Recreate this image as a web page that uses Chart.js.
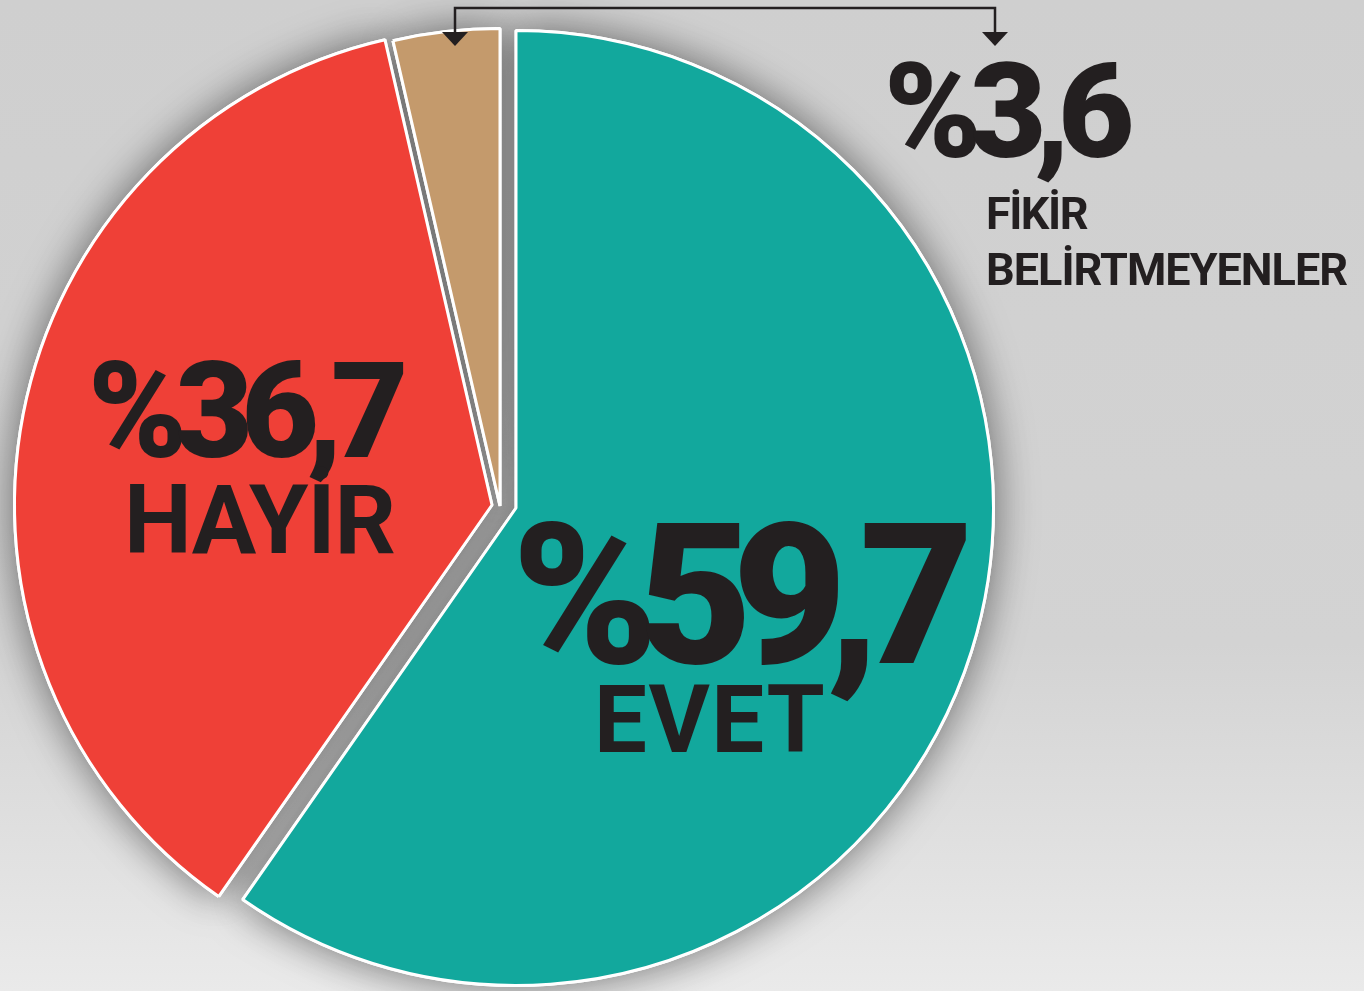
<!DOCTYPE html>
<html>
<head>
<meta charset="utf-8">
<script src="https://cdn.jsdelivr.net/npm/chart.js@4/dist/chart.umd.min.js"></script>
<style>
  html, body { margin:0; padding:0; }
  body {
    width:1364px; height:991px; overflow:hidden; position:relative;
    background: linear-gradient(to bottom, #cfcfcf 0%, #d3d3d3 65%, #e0e0e0 85%, #eaeaea 100%);
    font-family: Roboto, "Noto Sans", sans-serif; color:#231f20;
  }
  #wrap { position:absolute; left:0; top:0; width:1364px; height:991px; }
  .lbl { position:absolute; white-space:nowrap; line-height:1; font-weight:900; color:#231f20; }
  .nm { font-weight:700; }
</style>
</head>
<body>
<div id="wrap"><canvas id="c" width="1364" height="991"></canvas></div>
<div class="lbl" id="v0" style="left:512px; top:497px; font-size:197px; letter-spacing:-20px;"></div>
<div class="lbl nm" id="n0" style="left:594px; top:673px; font-size:94px; letter-spacing:1.5px;"></div>
<div class="lbl" id="v1" style="left:88px; top:345px; font-size:134px; letter-spacing:-12px;"></div>
<div class="lbl nm" id="n1" style="left:124px; top:472px; font-size:96px; letter-spacing:-1px;"></div>
<div class="lbl" id="v2" style="left:884px; top:46px; font-size:132px; letter-spacing:-12px;"></div>
<div class="lbl nm" id="n2a" style="left:986px; top:191px; font-size:45px; letter-spacing:-1.5px;"></div>
<div class="lbl nm" id="n2b" style="left:986px; top:247px; font-size:45px; letter-spacing:-1px;"></div>
<script>
const categories = ['EVET', 'HAYİR', 'FİKİR BELİRTMEYENLER'];
const values = [59.7, 36.7, 3.6];
const sliceColors = ['#12a89d', '#ef4037', '#c49a6c'];

function fmt(v) { return '%' + String(v).replace('.', ','); }
document.getElementById('v0').textContent = fmt(values[0]);
document.getElementById('v1').textContent = fmt(values[1]);
document.getElementById('v2').textContent = fmt(values[2]);
document.getElementById('n0').textContent = categories[0];
document.getElementById('n1').textContent = categories[1];
const parts = categories[2].split(' ');
document.getElementById('n2a').textContent = parts[0];
document.getElementById('n2b').textContent = parts[1];

const sliceShift = {
  id: 'sliceShift',
  beforeDatasetDraw(chart, args, opts) {
    const ctx = chart.ctx;
    const els = args.meta.data;
    els.forEach((arc, i) => {
      const s = opts.shifts[i] || [0, 0];
      ctx.save();
      ctx.translate(s[0], s[1]);
      ctx.shadowColor = opts.shadowColor;
      ctx.shadowBlur = opts.shadowBlur;
      arc.draw(ctx);
      ctx.restore();
    });
    els.forEach((arc, i) => {
      const s = opts.shifts[i] || [0, 0];
      ctx.save();
      ctx.translate(s[0], s[1]);
      arc.draw(ctx);
      ctx.restore();
    });
    return false;
  },
  afterDraw(chart, args, opts) {
    const ctx = chart.ctx;
    const b = opts.bracket;
    ctx.save();
    ctx.strokeStyle = '#231f20';
    ctx.fillStyle = '#231f20';
    ctx.lineWidth = 2.5;
    ctx.beginPath();
    ctx.moveTo(b.x1, b.y1 + 6);
    ctx.lineTo(b.x1, b.y);
    ctx.lineTo(b.x2, b.y);
    ctx.lineTo(b.x2, b.y1 + 6);
    ctx.stroke();
    [b.x1, b.x2].forEach(x => {
      ctx.beginPath();
      ctx.moveTo(x - 13, b.y1);
      ctx.lineTo(x + 13, b.y1);
      ctx.lineTo(x, b.y2);
      ctx.closePath();
      ctx.fill();
    });
    ctx.restore();
  }
};

new Chart(document.getElementById('c'), {
  type: 'pie',
  data: {
    labels: categories,
    datasets: [{
      data: values,
      backgroundColor: sliceColors,
      borderColor: '#ffffff',
      borderWidth: 3
    }]
  },
  options: {
    responsive: false,
    animation: false,
    events: [],
    layout: { padding: { top: 28, bottom: 3, left: 37, right: 369 } },
    plugins: {
      legend: { display: false },
      tooltip: { enabled: false },
      sliceShift: {
        shifts: [[0, 0], [-24, -3], [-16, -2]],
        shadowColor: 'rgba(0,0,0,0.5)',
        shadowBlur: 40,
        bracket: { x1: 455, x2: 995, y: 8, y1: 32, y2: 46 }
      }
    }
  },
  plugins: [sliceShift]
});
</script>
</body>
</html>
